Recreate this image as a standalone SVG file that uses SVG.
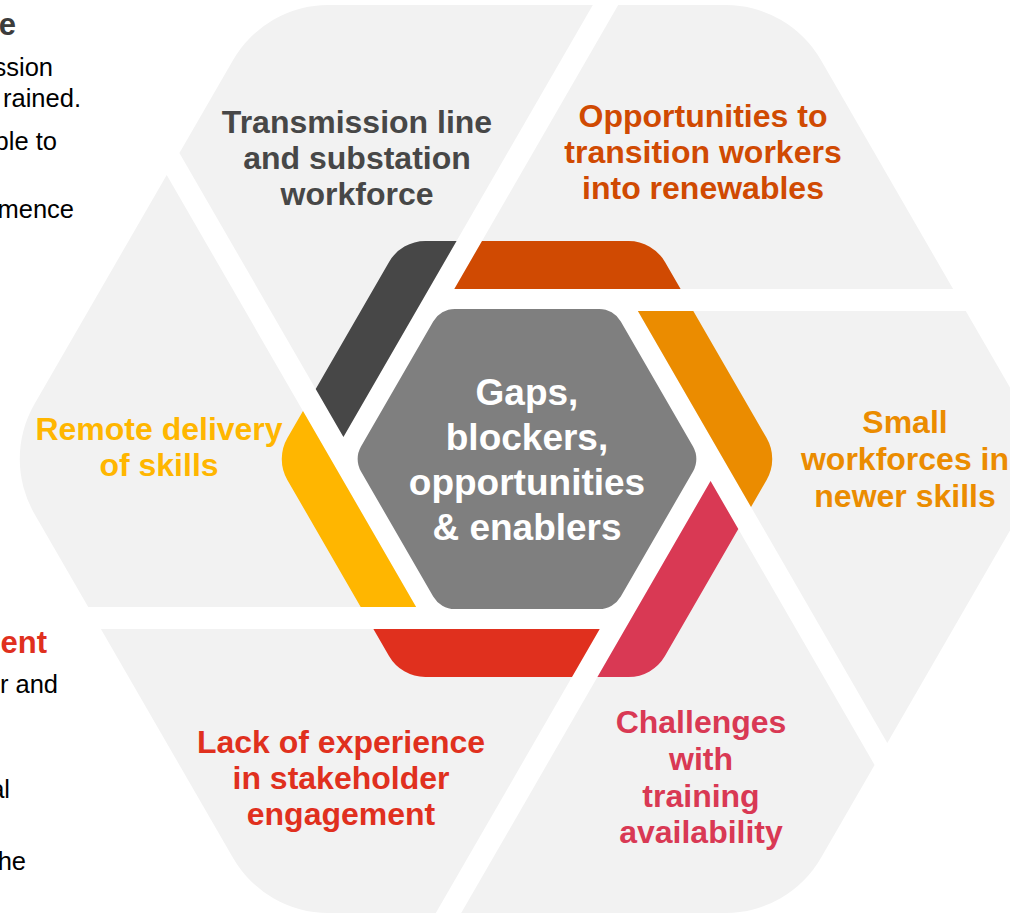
<svg xmlns="http://www.w3.org/2000/svg" xmlns:xlink="http://www.w3.org/1999/xlink" width="1010" height="915" viewBox="0 0 1010 915">
  <style>
    .piece { fill: #F2F2F2; }
    .lbl { font-family: "Liberation Sans", Arial, sans-serif; font-weight: bold; font-size: 32px; text-anchor: middle; }
    .hub { font-family: "Liberation Sans", Arial, sans-serif; font-weight: bold; font-size: 37px; text-anchor: middle; fill: #FFFFFF; }
    .side { font-family: "Liberation Sans", Arial, sans-serif; font-size: 25.5px; text-anchor: end; fill: #000000; }
    .sidehead { font-family: "Liberation Sans", Arial, sans-serif; font-weight: bold; font-size: 31px; text-anchor: end; }
  </style>
  <defs>
    <!-- One outer segment, drawn for the top position around the origin; the others are rotations of it -->
    <path id="piece" d="M -72.7,-170 L 91.2,-454 L 198.6,-454 A 110 110 0 0 1 293.9,-399 L 426.1,-170 Z"/>
    <!-- Coloured ring strip lying inside the segment -->
    <path id="strip" d="M -72.7,-170 L -45,-218 L 101.7,-218 A 42 42 0 0 1 138,-197 L 153.6,-170 Z"/>
  </defs>

  <!-- Partial side column text -->
  <g id="side-text">
    <text class="sidehead" x="16" y="35" fill="#3C3C3C">e</text>
    <text class="side" x="53" y="76">ssion</text>
    <text class="side" x="81" y="107">rained.</text>
    <text class="side" x="57" y="150">ble to</text>
    <text class="side" x="74" y="218">mence</text>
    <text class="sidehead" x="47" y="653" fill="#E0301E">ent</text>
    <text class="side" x="58" y="693">r and</text>
    <text class="side" x="10" y="798">al</text>
    <text class="side" x="26" y="870">he</text>
  </g>

  <g id="node-opportunities">
    <use xlink:href="#piece" class="piece" transform="translate(527 459)"/>
    <use xlink:href="#strip" fill="#D04A02" transform="translate(527 459)"/>
    <text class="lbl" fill="#D04A02"><tspan x="703" y="127">Opportunities to</tspan><tspan x="703" y="163">transition workers</tspan><tspan x="703" y="199">into renewables</tspan></text>
  </g>

  <g id="node-small-workforces">
    <use xlink:href="#piece" class="piece" transform="translate(527 459) rotate(60)"/>
    <use xlink:href="#strip" fill="#EB8C00" transform="translate(527 459) rotate(60)"/>
    <text class="lbl" fill="#EB8C00"><tspan x="905" y="433">Small</tspan><tspan x="905" y="470">workforces in</tspan><tspan x="905" y="507">newer skills</tspan></text>
  </g>

  <g id="node-training">
    <use xlink:href="#piece" class="piece" transform="translate(527 459) rotate(120)"/>
    <use xlink:href="#strip" fill="#D93954" transform="translate(527 459) rotate(120)"/>
    <text class="lbl" fill="#D93954"><tspan x="701" y="733">Challenges</tspan><tspan x="701" y="770">with</tspan><tspan x="701" y="807">training</tspan><tspan x="701" y="843">availability</tspan></text>
  </g>

  <g id="node-stakeholder">
    <use xlink:href="#piece" class="piece" transform="translate(527 459) rotate(180)"/>
    <use xlink:href="#strip" fill="#E0301E" transform="translate(527 459) rotate(180)"/>
    <text class="lbl" fill="#E0301E"><tspan x="341" y="753">Lack of experience</tspan><tspan x="341" y="789">in stakeholder</tspan><tspan x="341" y="825">engagement</tspan></text>
  </g>

  <g id="node-remote">
    <use xlink:href="#piece" class="piece" transform="translate(527 459) rotate(240)"/>
    <use xlink:href="#strip" fill="#FFB600" transform="translate(527 459) rotate(240)"/>
    <text class="lbl" fill="#FFB600"><tspan x="159" y="440">Remote delivery</tspan><tspan x="159" y="476">of skills</tspan></text>
  </g>

  <g id="node-transmission">
    <use xlink:href="#piece" class="piece" transform="translate(527 459) rotate(300)"/>
    <use xlink:href="#strip" fill="#474747" transform="translate(527 459) rotate(300)"/>
    <text class="lbl" fill="#474747"><tspan x="357" y="133">Transmission line</tspan><tspan x="357" y="169">and substation</tspan><tspan x="357" y="205">workforce</tspan></text>
  </g>

  <g id="node-centre">
    <path fill="#7F7F7F" transform="translate(527 459)" d="M 166,-12.5 A 25 25 0 0 1 166,12.5 L 93.8,137.5 A 25 25 0 0 1 72.2,150 L -72.2,150 A 25 25 0 0 1 -93.8,137.5 L -166,12.5 A 25 25 0 0 1 -166,-12.5 L -93.8,-137.5 A 25 25 0 0 1 -72.2,-150 L 72.2,-150 A 25 25 0 0 1 93.8,-137.5 Z"/>
    <text class="hub"><tspan x="527" y="405">Gaps,</tspan><tspan x="527" y="450">blockers,</tspan><tspan x="527" y="495">opportunities</tspan><tspan x="527" y="540">&amp; enablers</tspan></text>
  </g>

  <g id="connectors"></g>
</svg>
